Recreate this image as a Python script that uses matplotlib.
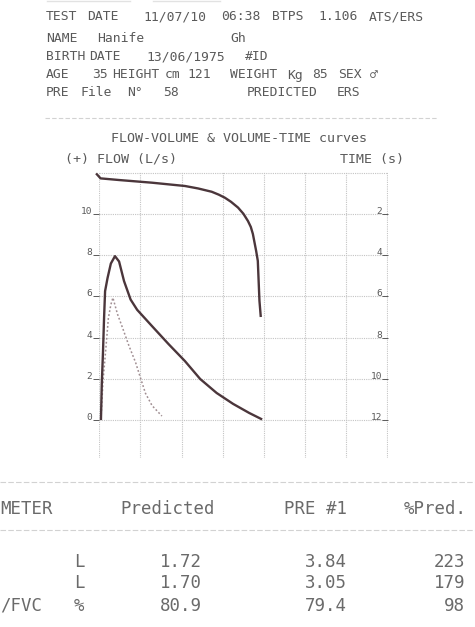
import matplotlib.pyplot as plt
from matplotlib.lines import Line2D

# flow-volume loop (volume L, flow L/s)
fv_vol = [0.04, 0.06, 0.09, 0.115, 0.14, 0.20, 0.28, 0.38, 0.48, 0.60, 0.76, 0.92,
          1.28, 1.68, 2.08, 2.45, 2.85, 3.25, 3.64, 3.93]
fv_flow = [0.05, 1.75, 3.35, 4.95, 6.26, 6.90, 7.60, 7.96, 7.70, 6.75, 5.85, 5.35,
           4.56, 3.69, 2.86, 1.99, 1.31, 0.78, 0.34, 0.05]

# predicted curve
pr_vol = [0.04, 0.09, 0.16, 0.22, 0.28, 0.33, 0.44, 0.56, 0.72, 0.88, 1.00, 1.12, 1.28, 1.52]
pr_flow = [0.05, 1.90, 3.50, 4.95, 5.60, 5.94, 5.15, 4.50, 3.60, 2.80, 2.04, 1.30, 0.70, 0.19]

# volume-time curve (volume L, time s)
vt_vol = [-0.06, 0.03, 0.48, 1.28, 2.08, 2.40, 2.73, 2.90, 3.05, 3.20, 3.37, 3.50, 3.61,
          3.68, 3.73, 3.81, 3.85, 3.88, 3.89, 3.92]
vt_time = [0.06, 0.26, 0.34, 0.47, 0.63, 0.75, 0.91, 1.05, 1.20, 1.40, 1.68, 1.98, 2.33,
           2.62, 2.96, 3.79, 4.27, 5.73, 6.21, 6.94]

flow_ticks = [0, 2, 4, 6, 8, 10]
time_ticks = [2, 4, 6, 8, 10, 12]

# results table (parameter names are only partly on the page)
params = ['', '', '/FVC']
units = ['L', 'L', '%']
predicted = ['1.72', '1.70', '80.9']
pre1 = ['3.84', '3.05', '79.4']
pct_pred = ['223', '179', '98']

W, H = 475, 627
fig = plt.figure(figsize=(4.75, 6.27), dpi=100)


def fx(x):
    return x / W


def fy(y):
    return 1 - y / H


mono = ['DejaVu Sans Mono', 'DejaVu Sans']
txt_c = '#5a5a5a'
curve_c = '#4b363b'
grid_c = '#c4c4c4'

# bottom edge of the previous printed line
for x0, x1 in ((47, 130), (153, 220)):
    fig.add_artist(Line2D([fx(x0), fx(x1)], [fy(1), fy(1)], transform=fig.transFigure,
                          color='#e2e2e2', lw=1.0))

# patient header
header = [
    (46, 17, 'TEST'), (87, 17, 'DATE'), (143, 17, '11/07/10'), (221, 17, '06:38'),
    (272, 17, 'BTPS'), (318, 17, '1.106'), (369, 17, 'ATS/ERS'),
    (46, 39, 'NAME'), (97, 39, 'Hanife'), (230, 39, 'Gh'),
    (46, 57, 'BIRTH'), (89, 57, 'DATE'), (146, 57, '13/06/1975'), (245, 57, '#ID'),
    (46, 75, 'AGE'), (92, 75, '35'), (112, 75, 'HEIGHT'), (165, 75, 'cm'), (187, 75, '121'),
    (230, 75, 'WEIGHT'), (287, 75, 'Kg'), (312, 75, '85'), (338, 75, 'SEX'), (370, 75, '♂'),
    (46, 93, 'PRE'), (80, 93, 'File'), (127, 93, 'N°'), (163, 93, '58'),
    (247, 93, 'PREDICTED'), (337, 93, 'ERS'),
]
for x, y, s in header:
    fig.text(fx(x), fy(y), s, ha='left', va='center', fontsize=9.4,
             color=txt_c, family=mono)

fig.add_artist(Line2D([fx(45), fx(437)], [fy(118), fy(118)], transform=fig.transFigure,
                      color='#d2d2d2', lw=0.8, ls=(0, (4, 2))))

fig.text(fx(239), fy(138), 'FLOW-VOLUME & VOLUME-TIME curves', ha='center', va='center',
         fontsize=9.6, color=txt_c, family=mono)
fig.text(fx(65), fy(159), '(+) FLOW (L/s)', ha='left', va='center', fontsize=9.6,
         color=txt_c, family=mono)
fig.text(fx(404), fy(159), 'TIME (s)', ha='right', va='center', fontsize=9.6,
         color=txt_c, family=mono)

# chart
ax = fig.add_axes([fx(98.5), fy(458), fx(388.3) - fx(98.5), fy(172) - fy(458)])
ax.set_xlim(-0.02, 7.02)
ax.set_ylim(-1.85, 12.05)
for s in ax.spines.values():
    s.set_visible(False)
for v in range(0, 8):
    ax.axvline(v, color=grid_c, lw=0.8, ls=(0, (1, 1)), zorder=0)
for v in range(-2, 13, 2):
    ax.axhline(v, color=grid_c, lw=0.8, ls=(0, (1, 1)), zorder=0)
ax.set_xticks([])
ax.set_yticks(flow_ticks, labels=[str(t) for t in flow_ticks], va='baseline', family=mono)
ax.tick_params(axis='y', direction='out', length=4, pad=0.5, labelsize=6.8,
               colors=txt_c, width=0.7)

ax.plot(pr_vol, pr_flow, color='#a08e92', lw=1.1, ls=(0, (1.2, 1.4)))
ax.plot(fv_vol, fv_flow, color=curve_c, lw=1.7, solid_joinstyle='round')

ax2 = ax.twinx()
ax2.set_ylim(12 + 1.85, 12 - 12.05)
for s in ax2.spines.values():
    s.set_visible(False)
ax2.set_yticks(time_ticks, labels=[str(t) for t in time_ticks], ha='right', va='baseline',
               family=mono)
ax2.tick_params(axis='y', direction='in', length=4, pad=-4.5, labelsize=6.8,
                colors=txt_c, width=0.7)
ax2.plot(vt_vol, vt_time, color=curve_c, lw=1.7, solid_joinstyle='round', clip_on=False)

# results table
for yy in (482, 530):
    fig.add_artist(Line2D([0, 1], [fy(yy), fy(yy)], transform=fig.transFigure,
                          color='#d2d2d2', lw=0.8, ls=(0, (5, 2))))

tab = dict(fontsize=12.5, color='#6a6a6a', family=mono, va='center')
fig.text(fx(0), fy(509), 'METER', ha='left', **tab)
fig.text(fx(120), fy(509), 'Predicted', ha='left', **tab)
fig.text(fx(347), fy(509), 'PRE #1', ha='right', **tab)
fig.text(fx(467), fy(509), '%Pred.', ha='right', **tab)

row_y = [562, 583, 606]
for i, yy in enumerate(row_y):
    if params[i]:
        fig.text(fx(0), fy(yy), params[i], ha='left', **tab)
    fig.text(fx(79), fy(yy), units[i], ha='center', **tab)
    fig.text(fx(202), fy(yy), predicted[i], ha='right', **tab)
    fig.text(fx(347), fy(yy), pre1[i], ha='right', **tab)
    fig.text(fx(465), fy(yy), pct_pred[i], ha='right', **tab)

fig.savefig('out.png', dpi=100, facecolor='white')
